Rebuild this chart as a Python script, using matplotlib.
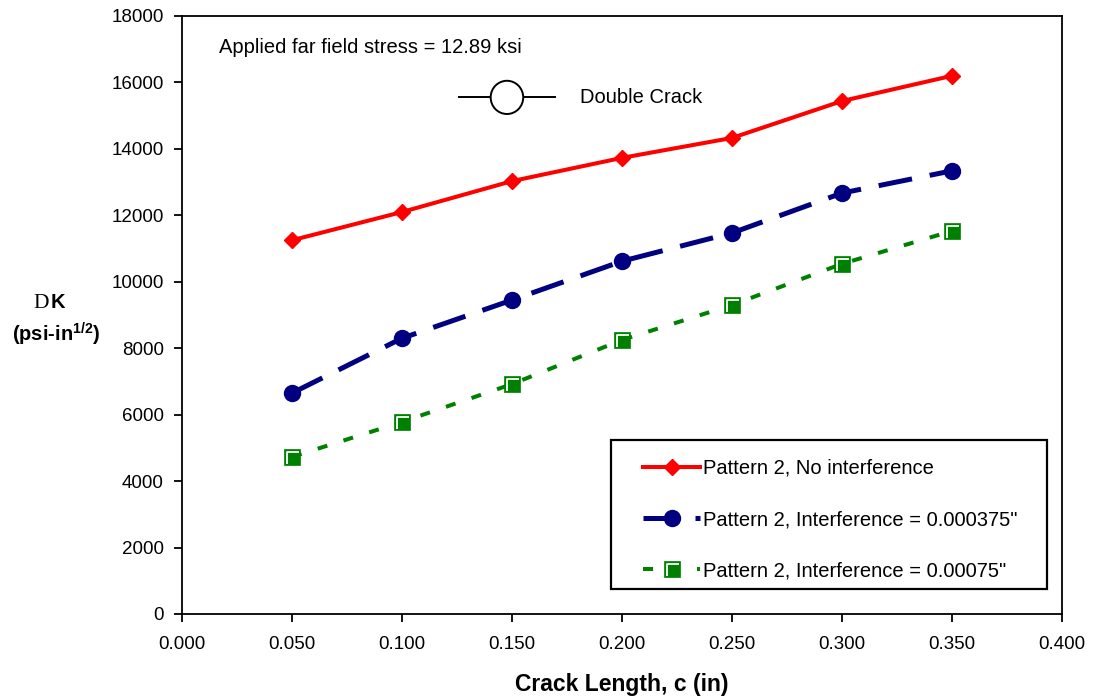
import matplotlib
matplotlib.use("Agg")
import matplotlib.pyplot as plt
from matplotlib.patches import Ellipse, Rectangle
from matplotlib.path import Path
from matplotlib.legend_handler import HandlerTuple

plt.rcParams['font.family'] = ['Liberation Sans', 'DejaVu Sans']
plt.rcParams['mathtext.fontset'] = 'custom'
plt.rcParams['mathtext.rm'] = 'Liberation Sans'
plt.rcParams['mathtext.bf'] = 'Liberation Sans:bold'

crack_length = [0.05, 0.10, 0.15, 0.20, 0.25, 0.30, 0.35]
no_interf = [11250, 12100, 13030, 13730, 14330, 15440, 16200]
interf_000375 = [6650, 8300, 9450, 10620, 11470, 12670, 13340]
interf_00075 = [4730, 5780, 6920, 8250, 9300, 10540, 11530]

labels = ["Pattern 2, No interference",
          'Pattern 2, Interference = 0.000375"',
          'Pattern 2, Interference = 0.00075"']

fig = plt.figure(figsize=(10.96, 6.98), dpi=100)
ax = fig.add_axes([182/1096, 84/698, 880/1096, 598/698])

l1, = ax.plot(crack_length, no_interf, color='#ff0000', lw=2.9, marker='D', ms=8.5,
              markeredgecolor='#ff0000', label=labels[0])
l2, = ax.plot(crack_length, interf_000375, color='#000080', lw=3.6, marker='o', ms=11.5,
              dashes=(6.8, 3.6), label=labels[1])
l3, = ax.plot(crack_length, interf_00075, color='#008000', lw=2.9, marker='s', ms=11,
              markerfacecolor='#008000', markeredgecolor='#008000', markeredgewidth=0.5,
              dashes=(2.5, 4.2), label=labels[2])
# white highlight inside the square markers
hl_path = Path([(-0.36, -0.44), (-0.36, 0.36), (0.44, 0.36)],
               [Path.MOVETO, Path.LINETO, Path.LINETO])
l3h, = ax.plot(crack_length, interf_00075, linestyle='none', marker=hl_path, ms=9.5,
               markerfacecolor='none', markeredgecolor='white', markeredgewidth=1.3,
               zorder=3)

ax.set_xlim(0, 0.4)
ax.set_ylim(0, 18000)
xt = [0.0, 0.05, 0.1, 0.15, 0.2, 0.25, 0.3, 0.35, 0.4]
ax.set_xticks(xt)
ax.set_xticklabels([f"{v:.3f}" for v in xt])
ax.set_yticks(range(0, 18001, 2000))
ax.tick_params(labelsize=13.5, direction='out', length=6, width=1.3, colors='black')
ax.tick_params(axis='x', pad=10)
ax.tick_params(axis='y', pad=7)
for s in ax.spines.values():
    s.set_linewidth(1.3)
    s.set_color('black')

ax.set_xlabel("Crack Length, c (in)", fontsize=16.5, fontweight='bold', labelpad=14)

fig.text(33/1096, 1 - 303/698, "D", fontsize=15.5, family='Liberation Serif',
         ha='left', va='center')
fig.text(51/1096, 1 - 303/698, "K", fontsize=14.5, fontweight='bold', ha='left', va='center')
fig.text(56/1096, 1 - 334/698, r"(psi-in$^{\mathbf{1/2}}$)", fontsize=14.5, fontweight='bold',
         ha='center', va='center')

ax.text(0.0168, 17050, "Applied far field stress = 12.89 ksi", fontsize=14.5, va='center')
# double crack symbol
ax.plot([0.126, 0.1695], [15550, 15550], color='black', lw=1.4)
ax.add_patch(Ellipse((0.1477, 15550), 0.0148, 1000, facecolor='white',
                     edgecolor='black', lw=1.4, zorder=5))
ax.text(0.181, 15550, "Double Crack", fontsize=14.5, va='center')

# legend frame
ax.add_patch(Rectangle(((611 - 182) / 880, (614 - 589) / 598), 436 / 880, 149 / 598,
                       transform=ax.transAxes, facecolor='white', edgecolor='black',
                       lw=1.6, zorder=6))
leg = ax.legend([l1, l2, (l3, l3h)], labels,
                handler_map={tuple: HandlerTuple(ndivide=1, pad=0)},
                loc='upper left', bbox_to_anchor=((643 - 182) / 880, (614 - 459) / 598),
                borderaxespad=0, borderpad=0, fontsize=14.5, frameon=False,
                labelspacing=1.6, handlelength=2.85, handletextpad=0.15)
leg.set_zorder(7)

fig.savefig("out.png", dpi=100)
